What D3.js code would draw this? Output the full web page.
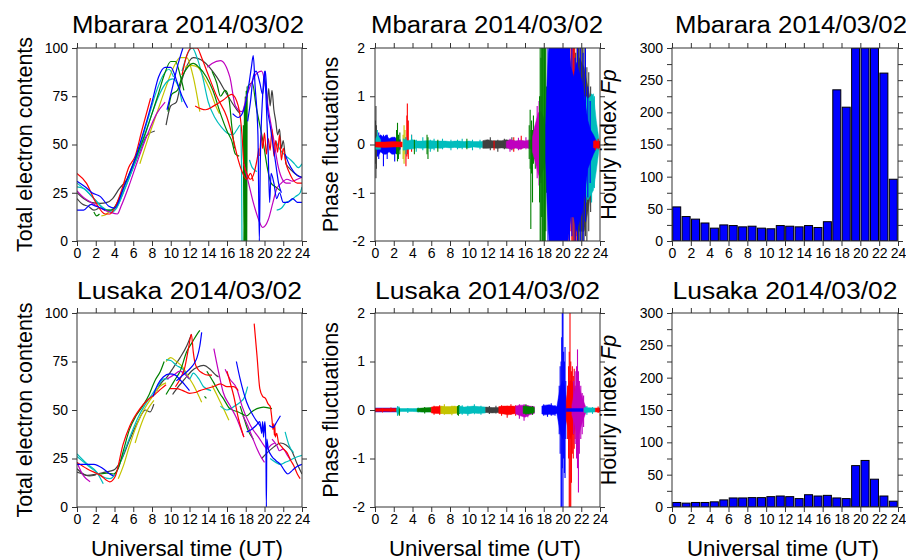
<!DOCTYPE html>
<html>
<head>
<meta charset="utf-8">
<script src="https://cdn.jsdelivr.net/npm/d3@7"></script>
<style>
  html, body { margin: 0; padding: 0; background: #fff; }
  svg { display: block; font-family: Arial, "Liberation Sans", Helvetica, sans-serif; }
</style>
</head>
<body>
<svg id="chart" width="906" height="560"></svg>
<script>
// ---------------------------------------------------------------------------
// Data
// ---------------------------------------------------------------------------
const hourTicks = [0, 2, 4, 6, 8, 10, 12, 14, 16, 18, 20, 22, 24];
const tecTicks = [0, 25, 50, 75, 100];
const phaseTicks = [-2, -1, 0, 1, 2];
const fpTicks = [0, 25, 50, 75, 100, 125, 150, 175, 200, 225, 250, 275, 300];
const fpHours = d3.range(24);

const stations = ["Mbarara", "Lusaka"];
const dateLabel = "2014/03/02";

// Hourly Fp index per UT hour
const fpMbarara = [53, 38, 34, 28, 20, 25, 24, 22, 23, 20, 19, 24, 23, 22, 24, 21, 30, 235, 208, 300, 300, 300, 261, 96];
const fpLusaka  = [7, 6, 7, 7, 8, 11, 14, 14, 14.5, 14.5, 16, 17, 16, 13, 19, 17, 18, 14, 13, 64, 72, 43, 17, 9];

// TEC arcs per satellite pass: [UT hour, TEC]
const tecMbarara = [
  {c: "gray", p: [[0,25],[0.7,22],[1.5,20],[2.5,19.5],[3.2,20],[3.8,22],[4.5,27],[5.5,33],[6.5,44],[7.5,55],[8.3,57]]},
  {c: "gray", p: [[0,22],[0.6,19],[1.2,18],[1.8,16],[2.3,17]]},
  {c: "gray", p: [[9.5,60],[10,70],[10.6,72],[11,80],[11.5,88],[12.4,95],[13.5,93],[14.9,85],[16,76],[17.05,68],[17.4,66]]},
  {c: "gray", p: [[20.3,70],[20.45,79],[20.6,70],[20.8,78],[21,68],[21.2,62],[21.4,55],[21.6,58],[21.8,48],[22,52],[22.3,40],[22.6,38],[23,36],[23.5,34],[24,33]]},
  {c: "yellow", p: [[2.6,13],[3,13.5],[3.4,15]]},
  {c: "yellow", p: [[6.7,40],[7.5,52],[8.5,66],[9.5,80],[10.3,90],[11,95],[11.7,95],[12.4,85],[13.1,67]]},
  {c: "yellow", p: [[11.5,90],[12.2,91],[12.9,90],[13.5,85],[14.2,78],[14.8,70],[15.2,66]]},
  {c: "cyan", p: [[0,30],[1,26],[2,21],[3,16],[3.8,15],[4.5,20],[5.5,32],[6.5,46],[7.5,62],[8.5,78],[9.2,86],[9.8,89],[10.3,85]]},
  {c: "cyan", p: [[0,28],[0.8,27],[1.6,23],[2.6,18],[3.3,16],[4,16],[5,26],[6,38],[7,51],[8,66],[8.8,76],[9.5,82],[10.2,84],[10.8,80],[11.2,72]]},
  {c: "cyan", p: [[11.2,88],[11.8,97],[12.3,100],[12.8,95],[13.4,85],[14,72],[14.7,64],[15.4,59],[16,56],[16.6,55],[17.1,58],[17.4,60],[17.55,40],[17.6,0]]},
  {c: "cyan", p: [[18.4,42],[18.7,38],[19.2,36]]},
  {c: "cyan", p: [[21.2,52],[21.7,47],[22.3,44],[22.8,42],[23.2,40],[23.6,38],[24,40]]},
  {c: "cyan", p: [[21.3,16],[21.8,17],[22.3,20],[22.8,21],[23.3,23],[23.8,25],[24,28]]},
  {c: "green", p: [[1.8,15],[2.1,13],[2.4,14]]},
  {c: "green", p: [[3,16],[3.6,16],[4.2,19],[5,28],[6,40],[7,52],[8,66],[8.6,75],[9.3,86],[10,93],[10.5,93],[11,86],[11.4,78]]},
  {c: "green", p: [[9.7,67],[10.1,76],[10.7,78],[11.2,85],[11.8,90],[12.4,92],[13,90],[13.8,85],[14.5,78],[15.3,66],[16,57],[16.5,52],[16.9,45],[17.3,44]]},
  {c: "green", p: [[14.4,88],[14.9,82],[15.3,75],[15.8,78],[16.2,74],[16.5,60],[16.8,48]]},
  {c: "green", p: [[17.75,60],[17.8,0],[17.85,70],[17.9,0],[17.95,75],[18,0],[18.05,78],[18.1,0],[18.15,80]]},
  {c: "green", p: [[18.2,80],[18.7,82],[19.1,70],[19.5,60],[19.9,50],[20.3,38],[20.7,30],[21.2,28],[21.7,26]]},
  {c: "magenta", p: [[0,26],[0.6,23],[1.5,20],[2.5,17],[3.5,15],[4.3,14],[4.7,18],[5.5,28],[6.5,42],[7.5,55],[8.5,66],[9.4,72]]},
  {c: "magenta", p: [[13.9,90],[14.4,92],[15.3,93.5],[16.3,85],[16.9,70],[17.6,67],[18.1,75],[18.7,83],[19.2,87],[19.7,88],[20.1,80],[20.4,69],[21,52],[21.4,40],[21.8,33],[22.3,30],[22.8,30]]},
  {c: "magenta", p: [[17.8,40],[18.3,30],[18.8,20],[19.3,12],[19.8,7],[20.4,11],[20.9,20],[21.3,27],[21.8,30],[22.4,32],[23,31],[23.5,32],[24,33]]},
  {c: "red", p: [[0,35],[1,30],[2,20],[3,14],[3.5,14],[4,17],[4.8,27],[5.5,38],[6.2,44],[6.9,57],[7.85,74]]},
  {c: "red", p: [[11.2,86],[11.7,96],[12.2,100],[12.8,100],[13.3,95],[13.85,88],[14.9,75],[16,64],[16.7,52],[17.2,42],[17.6,36],[18.1,32],[18.5,35],[18.8,31]]},
  {c: "red", p: [[12.6,70],[13.7,68],[14.6,70],[15.6,73],[16.5,76],[17.2,70],[17.6,55],[17.8,40],[18.1,35],[18.5,32],[18.8,34],[19.2,42],[19.4,48]]},
  {c: "red", p: [[19.5,44],[19.65,55],[19.8,48],[20,56],[20.2,45],[20.4,53],[20.6,47],[20.8,58],[21,44],[21.2,52],[21.4,46],[21.6,55],[21.8,42],[22,48],[22.3,40],[22.6,36],[23,32],[23.5,30],[24,30]]},
  {c: "blue", p: [[0,31],[0.9,28],[1.6,25],[2.5,23],[3.4,18],[4,17],[5,28],[6,40],[7,55],[8,72],[8.7,85],[9.4,90],[10,90],[10.7,82],[11.2,75],[11.8,69]]},
  {c: "blue", p: [[0,16],[0.7,16],[1.5,19],[2,18],[2.6,17],[3,16]]},
  {c: "blue", p: [[9.6,68],[10.2,80],[10.8,92],[11.3,100]]},
  {c: "blue", p: [[16.6,66],[17.2,64],[17.8,68],[18.3,80],[18.6,90],[18.8,96],[19,80],[19.3,55],[19.45,0],[19.55,40],[19.8,75],[20,88],[20.2,70],[20.4,45],[20.55,20],[20.7,35],[21,30],[21.3,22],[21.6,25],[22,20],[22.5,20],[23,22],[23.5,20],[24,20]]},
  {c: "blue", p: [[18.2,62],[18.5,72],[18.8,85],[19.1,88],[19.5,82],[19.8,76],[20.1,88],[20.3,70],[20.6,60],[20.9,50],[21.2,40],[21.5,30],[21.8,25]]},
  {c: "blue", p: [[22.2,45],[22.6,40],[23.1,36],[23.5,34],[24,33]]}
];

const tecLusaka = [
  {c: "gray", p: [[0,19.7],[1.06,16.3],[2.1,17],[3,18],[3.9,19],[4.6,23],[5.65,35],[6.5,44],[7.3,50],[7.8,49],[8.2,53]]},
  {c: "gray", p: [[0,18],[0.6,17],[1.3,16],[2,16.5]]},
  {c: "gray", p: [[8.5,60],[9,64],[9.6,67],[10.3,72],[11,77],[11.7,83],[12.2,89]]},
  {c: "gray", p: [[10.2,58],[10.8,62],[11.5,66],[12.2,70],[12.8,72],[13.5,73],[14.2,71],[14.8,68],[15.1,67]]},
  {c: "gray", p: [[19.7,25],[20.3,28],[21,31],[21.7,33],[22.3,32],[22.9,29],[23.5,22],[24,17]]},
  {c: "yellow", p: [[4.4,14.6],[5,22],[5.5,30],[6.2,40],[6.8,47],[7.5,53],[8.2,58],[8.8,62],[9.5,64]]},
  {c: "yellow", p: [[6.2,33],[6.8,42],[7.5,50],[8.2,55]]},
  {c: "yellow", p: [[9.5,75],[10,77],[10.6,75],[11.3,72],[11.9,67],[12.4,63],[13.3,54]]},
  {c: "yellow", p: [[14.4,62.7],[14.9,58],[15.3,54],[15.8,49],[16.2,44.7]]},
  {c: "cyan", p: [[0,27.4],[1.06,22.3],[2.1,18],[2.8,12]]},
  {c: "cyan", p: [[0,26],[1,22],[1.8,19],[2.6,16],[3.5,14.6],[4.2,18],[5,28],[5.8,38],[6.5,46],[7.3,53],[8,58],[8.7,63],[9.3,66],[9.8,66]]},
  {c: "cyan", p: [[9.5,76],[10,75.5],[10.6,73],[11.3,71],[12,66],[12.4,69],[13,66],[13.5,62],[14.3,60]]},
  {c: "cyan", p: [[15.3,52],[16,50],[16.8,52],[17.4,54],[17.9,57],[18.2,62]]},
  {c: "cyan", p: [[20.6,25],[21.2,23],[21.7,22],[22.2,23],[22.7,24],[23.3,25.5],[24,26.6]]},
  {c: "cyan", p: [[22.2,38.7],[22.6,32],[23.1,28]]},
  {c: "green", p: [[2.5,17],[3.2,17.5],[3.9,17],[4.4,20],[5,30],[5.6,40],[6.3,47],[7,52],[7.7,58],[8.3,65],[8.9,70],[9.3,75]]},
  {c: "green", p: [[9.5,58],[10,62],[10.5,66],[11,70],[11.7,80],[12.3,85],[12.8,89],[13.1,91]]},
  {c: "green", p: [[13.85,70],[14.6,64],[15.3,58],[15.6,56],[16.3,50.7],[17.2,49],[18.1,47],[18.6,49],[19.2,50.7],[19.9,51.5],[20.8,50.7]]},
  {c: "green", p: [[17.4,52],[17.8,46],[18.2,40],[18.8,35]]},
  {c: "green", p: [[13.6,57],[13.8,56]]},
  {c: "magenta", p: [[0,23],[0.7,16],[1.4,13]]},
  {c: "magenta", p: [[9.6,66],[10.3,68],[11,70],[11.6,68],[12,66]]},
  {c: "magenta", p: [[14.6,81.6],[15.1,69.6],[15.6,59],[16.3,52.4],[17.05,45.5],[17.8,36]]},
  {c: "magenta", p: [[15.8,71],[16.3,66],[17.05,61],[17.6,52],[18.5,42],[19.5,35],[19.9,32],[20.3,30],[20.7,32],[21.1,33]]},
  {c: "magenta", p: [[17.7,47],[18.2,42],[18.7,36],[19.2,30],[19.6,26],[20,23]]},
  {c: "magenta", p: [[20.8,35],[21.3,31.8],[21.6,29],[22,30],[22.4,27],[22.8,24]]},
  {c: "red", p: [[0,23],[1.06,19.7],[2.5,16.3],[3.5,13],[4.1,16],[4.9,32],[5.65,42],[6.7,50.6],[7.5,55],[8.3,58],[9,61],[9.5,63]]},
  {c: "red", p: [[9.9,61],[10.6,61],[11.3,60],[12,58.6],[12.6,59],[13.1,60],[13.8,61],[14.5,62],[15.3,63.5],[16,62],[16.7,62],[17.2,60]]},
  {c: "red", p: [[10.5,62],[11,66],[11.5,72],[11.9,82],[12.2,89],[12.4,80],[12.6,74],[12.9,71],[13.4,69],[14,68],[14.4,68]]},
  {c: "red", p: [[16,70],[16.4,63],[16.7,57.6],[17.2,46],[17.8,36]]},
  {c: "red", p: [[18.9,94.5],[19.2,78],[19.5,61],[19.8,57],[20.1,56],[20.4,53],[20.6,52],[20.8,45],[20.9,40],[21,43],[21.05,37],[21.1,42],[21.15,36],[21.3,38],[21.5,33],[21.7,31.8],[22,30],[22.4,28],[22.8,24],[23.1,21.5],[23.5,17],[23.8,14.6]]},
  {c: "blue", p: [[0,22],[1,22],[1.8,22],[2.8,19.7],[3.5,17],[3.9,16]]},
  {c: "blue", p: [[8.1,57],[8.6,63],[9.2,67],[9.9,68.6],[10.5,68],[11,65.5],[11.5,63],[12,60]]},
  {c: "blue", p: [[10.6,65],[11.3,68],[12,71],[12.5,74],[12.8,77],[13.1,83],[13.3,90]]},
  {c: "blue", p: [[17,75],[17.4,66],[18.1,54],[18.8,47],[19.5,42],[19.9,39],[20.05,44],[20.15,30],[20.2,0],[20.25,35],[20.4,30],[20.8,26],[21.2,24],[21.7,22],[22.1,19],[22.5,17],[23,19],[23.5,21],[24,22]]},
  {c: "blue", p: [[18.1,38.7],[18.6,40],[19.1,42],[19.5,44],[19.7,38],[19.8,44],[19.9,36],[20,43],[20.1,38]]},
  {c: "blue", p: [[20.5,42],[20.9,41],[21.3,43.8],[21.7,47]]}
];

// Phase fluctuations per receiver track.
// band: envelope [UT hour, min, max]; spikes: single excursions [UT hour, min, max]
const phaseMbarara = [
  {c: "blue", band: [[0,-0.2,0.2],[0.3,-0.25,0.15],[0.6,-0.15,0.2],[0.9,-0.2,0.15],[1.2,-0.2,0.2],[1.5,-0.15,0.12],[1.8,-0.2,0.15],[2.1,-0.2,0.15],[2.4,-0.15,0.1],[2.7,-0.1,0.1]],
   spikes: [[0.4,-0.3,0.25],[0.9,-0.45,0.2],[1.3,-0.3,0.2],[2.1,-0.35,0.15],[2.5,-0.25,0.15]]},
  {c: "gray", spikes: [[0.05,-0.4,0.5],[0.1,-0.7,0.8],[0.15,-0.5,0.4]]},
  {c: "cyan", band: [[0,-0.1,0.1],[0.3,-0.1,0.2],[0.6,-0.1,0.1]], spikes: [[0.25,-0.1,0.3]]},
  {c: "green", spikes: [[2.3,-0.2,0.3],[2.4,-0.35,0.45],[2.5,-0.3,0.2],[2.65,-0.2,0.25]]},
  {c: "yellow", spikes: [[3.0,-0.3,0.2],[3.1,-0.4,0.4],[3.2,-0.2,0.3]]},
  {c: "red", band: [[0,-0.05,0.05],[1,-0.06,0.05],[2,-0.05,0.06],[2.9,-0.05,0.05]],
   spikes: [[3.3,-0.45,0.15],[3.4,-0.25,0.6],[3.45,-0.2,0.85],[3.55,-0.3,0.5],[3.9,-0.15,0.2]]},
  {c: "cyan", band: [[3,-0.12,0.12],[3.5,-0.1,0.08],[4,-0.09,0.1],[4.5,-0.07,0.07],[5,-0.08,0.07],[5.5,-0.07,0.08],[6,-0.09,0.08],[6.5,-0.07,0.07],[7,-0.08,0.07],[7.5,-0.06,0.07],[8,-0.07,0.06],[8.5,-0.06,0.07],[9,-0.07,0.07],[9.5,-0.06,0.06],[10,-0.07,0.07],[10.5,-0.05,0.06],[11,-0.06,0.06],[11.5,-0.06,0.06]],
   spikes: [[3.3,-0.2,0.15],[3.9,-0.1,0.2],[4.4,-0.15,0.1],[5.1,-0.12,0.15],[5.9,-0.15,0.1],[6.3,-0.12,0.12],[7.2,-0.1,0.12],[8.1,-0.12,0.1],[8.8,-0.1,0.1],[9.3,-0.1,0.12],[10.4,-0.12,0.1],[11.2,-0.1,0.1]]},
  {c: "green", spikes: [[4.2,-0.2,0.1],[5.55,-0.2,0.2],[5.65,-0.3,0.15],[6.7,-0.15,0.1],[9.8,-0.1,0.12]]},
  {c: "gray", band: [[11.5,-0.08,0.08],[12,-0.08,0.1],[12.5,-0.07,0.08],[13,-0.08,0.08],[13.5,-0.07,0.08],[14,-0.08,0.1],[14.5,-0.07,0.08],[15,-0.07,0.07],[15.5,-0.06,0.07],[16,-0.07,0.07]],
   spikes: [[12.3,-0.12,0.15],[13.1,-0.15,0.1],[13.8,-0.1,0.12],[14.6,-0.12,0.15]]},
  {c: "red", spikes: [[12.7,-0.12,0.08],[14.8,-0.15,0.15],[15.6,-0.1,0.18]]},
  {c: "magenta", band: [[14,-0.06,0.06],[14.5,-0.1,0.1],[15,-0.07,0.07],[15.5,-0.1,0.09],[16,-0.06,0.07],[16.3,-0.08,0.09],[16.8,-0.1,0.1]],
   spikes: [[14.4,-0.15,0.12],[15.3,-0.12,0.14],[16.1,-0.1,0.15]]},
  {c: "green", spikes: [[16.45,-0.3,0.4],[16.55,-0.5,0.72],[16.62,-1.75,0.3],[16.7,-0.6,0.5],[16.8,-1.2,0.3],[16.9,-0.4,0.6],[17,-0.3,0.3],[17.1,-0.5,0.2]]},
  {c: "magenta", band: [[16.8,-0.15,0.15],[17,-0.3,0.35],[17.2,-0.45,0.5],[17.4,-0.6,0.65],[17.6,-0.7,0.7],[17.8,-0.6,0.65],[18,-0.5,0.55],[18.3,-0.3,0.3],[18.6,-0.12,0.12]],
   spikes: [[17.3,-0.7,0.8],[17.5,-0.85,0.9],[17.7,-0.8,1.0]]},
  {c: "green", spikes: [[17.55,-1.2,1],[17.62,-2.5,2.5],[17.7,-2.5,1.8],[17.78,-1.5,2.5],[17.85,-2.5,2.5],[17.92,-2.5,2.5],[18,-2.5,2.5],[18.08,-2.5,2.2],[18.15,-2.5,2.5],[18.22,-1.8,2.5],[18.3,-1,1.2]]},
  {c: "gray", band: [[20.9,-0.5,0.5],[21.3,-1.5,1.5],[21.8,-1.8,1.8],[22.3,-1.8,1.6],[22.7,-1.4,1.2],[23,-1,0.9],[23.3,-0.5,0.4],[23.5,-0.2,0.2]],
   spikes: [[21.2,-2.5,2.5],[21.4,-2.5,1.9],[21.55,-1.9,2.5],[21.7,-2.5,2.5],[21.85,-2.5,2.2],[22,-2.2,2.5],[22.15,-2.5,2.5],[22.3,-2.5,2],[22.45,-1.9,2.5],[22.6,-2.5,1.6],[22.8,-1.8,1.5],[23,-1.4,1.2]]},
  {c: "red", band: [[20.3,-0.4,0.4],[20.6,-0.8,0.8],[21,-1.2,1.2],[21.4,-0.8,0.8],[21.7,-0.3,0.3]],
   spikes: [[20.45,-1.5,0.8],[20.6,-2.5,1],[20.75,-2.5,1.8],[20.9,-1.8,2.5],[21,-2.5,2.5],[21.1,-2.5,2.5],[21.2,-1.2,2.5],[21.3,-2.5,2],[21.45,-2,1.2]]},
  {c: "cyan", band: [[21.8,-0.4,0.4],[22.1,-0.8,0.7],[22.4,-1,1],[22.7,-1.15,0.95],[23,-1.05,1],[23.3,-0.95,1.05],[23.6,-0.55,0.5],[23.9,-0.1,0.1]],
   spikes: [[22.5,-1.2,1],[23.1,-1.2,1.05],[23.4,-0.9,1]]},
  {c: "blue", band: [[18.2,-0.3,0.4],[18.35,-1.2,1.3],[18.5,-1.8,1.9],[19,-2.5,2.5],[19.5,-2.5,2.5],[20,-2.5,2.5],[20.3,-2.2,2.5],[20.6,-2,2.2],[20.9,-1.5,1.6],[21.2,-1.5,1.4],[21.5,-1.8,1.7],[21.8,-1.6,1.5],[22.1,-1.4,1.3],[22.4,-1,0.9],[22.7,-0.5,0.5],[23,-0.35,0.3],[23.3,-0.2,0.2],[23.6,-0.08,0.08]],
   spikes: [[18.45,-2.5,2.5],[18.6,-2.5,2.5],[18.75,-2.5,2.5],[20.5,-2.5,2.5],[20.75,-2.5,2.2],[21,-1.9,2.5],[21.35,-2.5,1.8],[21.6,-2.5,2.5],[21.9,-2.2,2.5],[22.2,-2.5,1.9],[22.45,-1.6,2.5],[22.7,-1.1,1.2],[22.95,-0.8,0.9]]},
  {c: "red", band: [[23.3,-0.07,0.07],[24,-0.07,0.07]], spikes: [[23.5,-0.12,0.1],[23.8,-0.1,0.12]]}
];

const phaseLusaka = [
  {c: "blue", band: [[0,-0.04,0.04],[2.3,-0.04,0.04]]},
  {c: "red", band: [[0,-0.03,0.03],[1,-0.025,0.03],[2.3,-0.03,0.03]], spikes: [[0.8,-0.05,0.04],[1.7,-0.04,0.05]]},
  {c: "cyan", band: [[2.3,-0.03,0.03],[2.4,-0.08,0.06],[2.6,-0.06,0.05],[2.7,-0.03,0.03],[4,-0.03,0.03],[5,-0.04,0.03],[6,-0.04,0.04]],
   spikes: [[2.4,-0.12,0.08],[2.55,-0.1,0.07],[3.5,-0.06,0.04],[4.6,-0.05,0.05]]},
  {c: "green", band: [[4.5,-0.03,0.03],[5,-0.04,0.04],[6,-0.04,0.05]], spikes: [[2.6,-0.12,0.03],[5.3,-0.07,0.06]]},
  {c: "red", band: [[6,-0.06,0.06],[6.5,-0.07,0.07],[7,-0.07,0.07],[7.5,-0.05,0.05]], spikes: [[6.3,-0.1,0.09],[6.9,-0.1,0.1]]},
  {c: "yellow", band: [[7,-0.07,0.08],[7.5,-0.08,0.07],[8,-0.08,0.07],[8.5,-0.07,0.08],[9,-0.06,0.06]], spikes: [[7.4,-0.1,0.12],[8.2,-0.11,0.09]]},
  {c: "green", spikes: [[8.8,-0.1,0.08],[8.9,-0.12,0.1],[9,-0.08,0.1]]},
  {c: "cyan", band: [[9,-0.07,0.08],[9.5,-0.07,0.06],[10,-0.08,0.07],[10.5,-0.06,0.08],[11,-0.07,0.07],[11.8,-0.06,0.06]],
   spikes: [[9.3,-0.1,0.1],[9.9,-0.12,0.09],[10.6,-0.09,0.12],[11.3,-0.1,0.09]]},
  {c: "gray", band: [[11.8,-0.05,0.06],[12.5,-0.06,0.05],[13.3,-0.05,0.05]], spikes: [[12.2,-0.08,0.08],[12.9,-0.07,0.09]]},
  {c: "red", band: [[13.2,-0.07,0.07],[13.7,-0.08,0.08],[14.2,-0.1,0.08],[14.7,-0.08,0.08],[15.2,-0.07,0.07]],
   spikes: [[13.5,-0.12,0.1],[14.1,-0.16,0.09],[14.5,-0.1,0.12],[15,-0.12,0.1]]},
  {c: "magenta", band: [[15,-0.08,0.08],[15.5,-0.12,0.1],[16,-0.15,0.1],[16.5,-0.1,0.08],[17,-0.07,0.07]],
   spikes: [[15.4,-0.18,0.12],[15.9,-0.22,0.12],[16.3,-0.15,0.1]]},
  {c: "green", band: [[15.8,-0.07,0.08],[16.4,-0.08,0.07],[17,-0.05,0.05]], spikes: [[16.1,-0.1,0.12],[16.8,-0.1,0.08]]},
  {c: "blue", band: [[17.8,-0.08,0.08],[18.2,-0.1,0.1],[18.6,-0.09,0.11],[19,-0.1,0.09],[19.4,-0.07,0.07],[19.6,-0.3,0.3],[19.8,-0.5,0.5],[20,-0.6,0.6],[20.2,-0.5,0.5],[20.4,-0.2,0.2],[20.5,-0.05,0.05]],
   spikes: [[18,-0.12,0.12],[18.4,-0.14,0.1],[18.8,-0.12,0.14],[19.2,-0.12,0.1],[19.65,-0.5,0.5],[19.75,-0.9,0.9],[19.85,-2.5,1],[19.92,-2.5,1.5],[19.98,-1.2,2.5],[20.05,-2.5,2.5],[20.12,-1,1.2],[20.2,-1.3,1],[20.27,-1.4,1.3],[20.35,-0.6,0.6]]},
  {c: "red", band: [[20.4,-0.2,0.2],[20.6,-0.4,0.5],[20.8,-0.6,0.6],[21,-0.5,0.6],[21.2,-0.5,0.5],[21.4,-0.3,0.3],[21.6,-0.1,0.1]],
   spikes: [[20.55,-0.6,0.5],[20.65,-1,0.9],[20.72,-2.5,1.2],[20.8,-2.5,2.5],[20.88,-2.5,1],[20.95,-1.5,0.8],[21.05,-0.9,0.9],[21.15,-1,0.7],[21.25,-0.8,0.85],[21.35,-0.6,0.5]]},
  {c: "magenta", band: [[21,-0.1,0.1],[21.3,-0.3,0.4],[21.6,-0.6,0.6],[21.9,-0.4,0.4],[22.2,-0.2,0.2],[22.5,-0.05,0.05]],
   spikes: [[21.2,-0.5,0.6],[21.35,-0.7,0.8],[21.5,-1,0.9],[21.6,-1.2,1.25],[21.7,-1.7,0.8],[21.8,-0.9,0.6],[21.95,-0.6,0.5],[22.1,-0.5,0.35],[22.25,-0.35,0.3]]},
  {c: "blue", band: [[20.4,-0.03,0.03],[22.2,-0.03,0.03]]},
  {c: "cyan", band: [[22.3,-0.05,0.05],[23.5,-0.04,0.04]], spikes: [[22.6,-0.1,0.08],[23.2,-0.08,0.06]]},
  {c: "red", band: [[23.5,-0.04,0.04],[24,-0.04,0.04]], spikes: [[23.8,-0.06,0.07]]}
];

// ---------------------------------------------------------------------------
// Layout & styles
// ---------------------------------------------------------------------------
const palette = {
  red: "#ff0000", blue: "#0000ff", green: "#008000", cyan: "#00bdbd",
  magenta: "#bf00bf", yellow: "#c4c400", gray: "#404040"
};
const frameColor = "#333";
const cols = [{x: 77, w: 225}, {x: 375, w: 225}, {x: 672, w: 226}];
const rows = [{y: 48, h: 193}, {y: 313, h: 194}];
const titleCenters = [[188, 487, 791], [189.5, 487.5, 785]];
const titleLengths = [232, 225];
const titleBaselines = [33, 299];

const svg = d3.select("#chart");
let clipId = 0;

function styleAxis(sel) {
  sel.select(".domain").remove();
  sel.selectAll(".tick line").attr("stroke", frameColor);
  sel.selectAll(".tick text").attr("fill", "#000").attr("font-size", 14);
}

function panel(col, row) {
  const c = cols[col], r = rows[row];
  const g = svg.append("g").attr("transform", `translate(${c.x},${r.y})`);
  const id = "clip" + (clipId++);
  g.append("clipPath").attr("id", id).append("rect").attr("width", c.w).attr("height", r.h);
  const plot = g.append("g").attr("clip-path", `url(#${id})`);
  return {g, plot, w: c.w, h: r.h};
}

function axes(p, x, y, yTicks, yFmt, pad) {
  const {g, w, h} = p;
  g.append("g").attr("transform", `translate(0,${h})`)
    .call(d3.axisBottom(x).tickValues(hourTicks).tickSize(5).tickSizeOuter(0).tickPadding(2))
    .call(styleAxis);
  g.append("g")
    .call(d3.axisTop(x).tickValues(hourTicks).tickSize(5).tickSizeOuter(0).tickFormat(""))
    .call(styleAxis);
  g.append("g")
    .call(d3.axisLeft(y).tickValues(yTicks).tickSize(5).tickSizeOuter(0).tickPadding(pad).tickFormat(yFmt))
    .call(styleAxis);
  g.append("g").attr("transform", `translate(${w},0)`)
    .call(d3.axisRight(y).tickValues(yTicks).tickSize(5).tickSizeOuter(0).tickFormat(""))
    .call(styleAxis);
  g.append("rect").attr("width", w).attr("height", h)
    .attr("fill", "none").attr("stroke", frameColor).attr("stroke-width", 1);
}

function title(col, row, text) {
  svg.append("text")
    .attr("x", titleCenters[row][col] - titleLengths[row] / 2)
    .attr("y", titleBaselines[row])
    .attr("font-size", 23)
    .attr("textLength", titleLengths[row])
    .attr("lengthAdjust", "spacingAndGlyphs")
    .text(text);
}

function yTitle(x, cy, build) {
  const t = svg.append("text")
    .attr("transform", `translate(${x},${cy}) rotate(-90)`)
    .attr("text-anchor", "middle")
    .attr("font-size", 21.5);
  build(t);
}

// ---------------------------------------------------------------------------
// Draw
// ---------------------------------------------------------------------------
[tecMbarara, tecLusaka].forEach((arcs, row) => {
  const p = panel(0, row);
  const x = d3.scaleLinear().domain([0, 24]).range([0, p.w]);
  const y = d3.scaleLinear().domain([0, 100]).range([p.h, 0]);
  const line = d3.line().x(d => x(d[0])).y(d => y(d[1])).curve(d3.curveMonotoneX);
  p.plot.selectAll("path.arc").data(arcs).join("path")
    .attr("class", "arc")
    .attr("d", d => line(d.p))
    .attr("fill", "none")
    .attr("stroke", d => palette[d.c])
    .attr("stroke-width", 1.2)
    .attr("stroke-linejoin", "round");
  axes(p, x, y, tecTicks, d => d, 4);
  title(0, row, `${stations[row]} ${dateLabel}`);
  yTitle(31.5, rows[row].y + rows[row].h / 2, t => t.text("Total electron contents"));
});

[phaseMbarara, phaseLusaka].forEach((tracks, row) => {
  const p = panel(1, row);
  const x = d3.scaleLinear().domain([0, 24]).range([0, p.w]);
  const y = d3.scaleLinear().domain([-2, 2]).range([p.h, 0]);
  const area = d3.area().x(d => x(d[0])).y0(d => y(d[1])).y1(d => y(d[2]));
  tracks.forEach(trk => {
    const col = palette[trk.c];
    if (trk.band) {
      p.plot.append("path")
        .attr("d", area(trk.band))
        .attr("fill", col)
        .attr("stroke", col)
        .attr("stroke-width", 0.5);
    }
    if (trk.spikes) {
      p.plot.selectAll(null).data(trk.spikes).join("line")
        .attr("x1", d => x(d[0])).attr("x2", d => x(d[0]))
        .attr("y1", d => y(d[1])).attr("y2", d => y(d[2]))
        .attr("stroke", col)
        .attr("stroke-width", 1.1);
    }
  });
  axes(p, x, y, phaseTicks, d => d, 5);
  title(1, row, `${stations[row]} ${dateLabel}`);
  yTitle(338, rows[row].y + rows[row].h / 2, t => t.text("Phase fluctuations"));
});

[fpMbarara, fpLusaka].forEach((vals, row) => {
  const p = panel(2, row);
  const x = d3.scaleLinear().domain([0, 24]).range([0, p.w]);
  const y = d3.scaleLinear().domain([0, 300]).range([p.h, 0]);
  p.plot.selectAll("rect.bar").data(fpHours).join("rect")
    .attr("class", "bar")
    .attr("x", h => x(h + 0.075))
    .attr("width", x(0.85) - x(0))
    .attr("y", h => y(vals[h]))
    .attr("height", h => p.h - y(vals[h]))
    .attr("fill", "#0000ff")
    .attr("stroke", "#000")
    .attr("stroke-width", 1);
  axes(p, x, y, fpTicks, d => (d % 50 === 0 ? d : ""), 4);
  title(2, row, `${stations[row]} ${dateLabel}`);
  yTitle(616, rows[row].y + rows[row].h / 2, t => {
    t.append("tspan").text("Hourly index ");
    t.append("tspan").attr("font-style", "italic").text("Fp");
  });
});

// x-axis titles under the lower row
[187, 485, 783].forEach(cx => {
  svg.append("text")
    .attr("x", cx - 96).attr("y", 556)
    .attr("font-size", 22)
    .attr("textLength", 192)
    .attr("lengthAdjust", "spacingAndGlyphs")
    .text("Universal time (UT)");
});
</script>
</body>
</html>
